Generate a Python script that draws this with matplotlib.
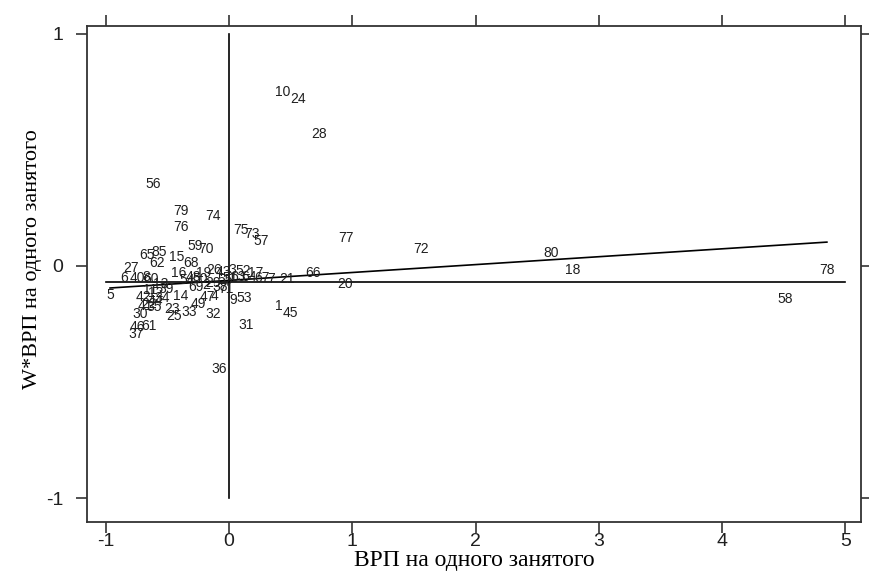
import numpy as np
import matplotlib
matplotlib.use("Agg")
import matplotlib.pyplot as plt

# =========================
# Dados (diagrama de Moran)
# =========================
labels = ["10", "24", "28", "56", "79", "74", "76", "75", "73", "57",
          "77", "72", "80", "18", "78", "58", "59", "70", "65", "85",
          "62", "15", "68", "27", "16", "52", "17", "7", "21", "66",
          "20", "1", "45", "9", "53", "31", "36", "32", "4", "47",
          "49", "14", "33", "23", "25", "30", "5", "42", "46", "61",
          "37", "3", "40", "8", "60", "13", "11", "12", "44", "22",
          "34", "35", "39", "48", "19", "26", "43", "50", "2", "29",
          "38", "55", "54", "63", "64", "6", "41", "51", "67", "69", "71"]

grp = [0.438, 0.560, 0.730, -0.616, -0.389, -0.130, -0.389, 0.097, 0.187, 0.260,
       0.949, 1.557, 2.611, 2.790, 4.850, 4.509, -0.276, -0.187, -0.665, -0.568,
       -0.584, -0.422, -0.308, -0.795, -0.406, 0.114, 0.219, 0.341, 0.470, 0.681,
       0.941, 0.406, 0.495, 0.032, 0.122, 0.138, -0.081, -0.130, -0.114, -0.178,
       -0.251, -0.389, -0.324, -0.462, -0.446, -0.722, -0.965, -0.697, -0.746, -0.649,
       -0.754, 0.024, -0.746, -0.673, -0.633, -0.551, -0.641, -0.592, -0.600, -0.649,
       -0.543, -0.608, -0.511, -0.292, -0.203, -0.122, -0.049, -0.235, -0.187, -0.130,
       -0.073, -0.032, -0.341, 0.073, 0.162, -0.852, -0.681, 0.008, 0.268, -0.268, -0.024]

w_grp = [0.750, 0.720, 0.569, 0.353, 0.237, 0.216, 0.168, 0.155, 0.138, 0.108,
         0.121, 0.073, 0.056, -0.017, -0.017, -0.142, 0.086, 0.073, 0.047, 0.060,
         0.013, 0.039, 0.013, -0.009, -0.030, -0.022, -0.030, -0.056, -0.056, -0.030,
         -0.078, -0.172, -0.203, -0.147, -0.138, -0.254, -0.444, -0.207, -0.129, -0.134,
         -0.164, -0.129, -0.198, -0.185, -0.216, -0.207, -0.125, -0.134, -0.263, -0.259,
         -0.293, -0.017, -0.052, -0.047, -0.056, -0.078, -0.103, -0.116, -0.151, -0.164,
         -0.138, -0.177, -0.099, -0.047, -0.030, -0.017, -0.026, -0.056, -0.082, -0.073,
         -0.091, -0.060, -0.060, -0.047, -0.047, -0.052, -0.172, -0.052, -0.052, -0.091, -0.099]

# linha de regressão e médias
intercept = -0.062
slope = 0.034
mean_wy = -0.069

x_ticks = [-1, 0, 1, 2, 3, 4, 5]
y_ticks = [-1, 0, 1]

# =========================
# Gráfico
# =========================
fig = plt.figure(figsize=(8.69, 5.78), dpi=100)
ax = fig.add_axes([0.1001, 0.0969, 0.8906, 0.8581])

txt_color = "#1f1f1f"
for lab, x, y in zip(labels, grp, w_grp):
    ax.text(x, y, lab, ha="center", va="center", fontsize=10,
            family="Liberation Sans", color=txt_color)

# linhas de referência
ax.plot([0, 0], [-1, 1], color="black", lw=1.2)
ax.plot([-1, 5], [mean_wy, mean_wy], color="black", lw=1.2)
xs = np.array([min(grp), max(grp)])
ax.plot(xs, intercept + slope * xs, color="black", lw=1.2)

ax.set_xlim(-1.152, 5.126)
ax.set_ylim(-1.103, 1.034)

ax.set_xticks(x_ticks)
ax.set_yticks(y_ticks)
ax.set_xticklabels([str(t) for t in x_ticks], family="Liberation Sans", fontsize=14)
ax.set_yticklabels([str(t) for t in y_ticks], family="Liberation Sans", fontsize=14)
ax.tick_params(axis="both", direction="out", length=8, width=1.2, colors="#333333",
               labelcolor=txt_color)
ax.tick_params(axis="x", pad=0)
ax.tick_params(axis="y", pad=9)
ax.tick_params(top=True, right=True, labeltop=False, labelright=False)

for s in ax.spines.values():
    s.set_linewidth(1.3)
    s.set_color("#333333")

ax.set_xlabel("ВРП на одного занятого", family="Liberation Serif", fontsize=17,
              labelpad=0)
ax.set_ylabel("W*ВРП на одного занятого", family="Liberation Serif", fontsize=16)
ax.yaxis.set_label_coords(-0.058, 0.53)

fig.savefig("out.png", dpi=100)
